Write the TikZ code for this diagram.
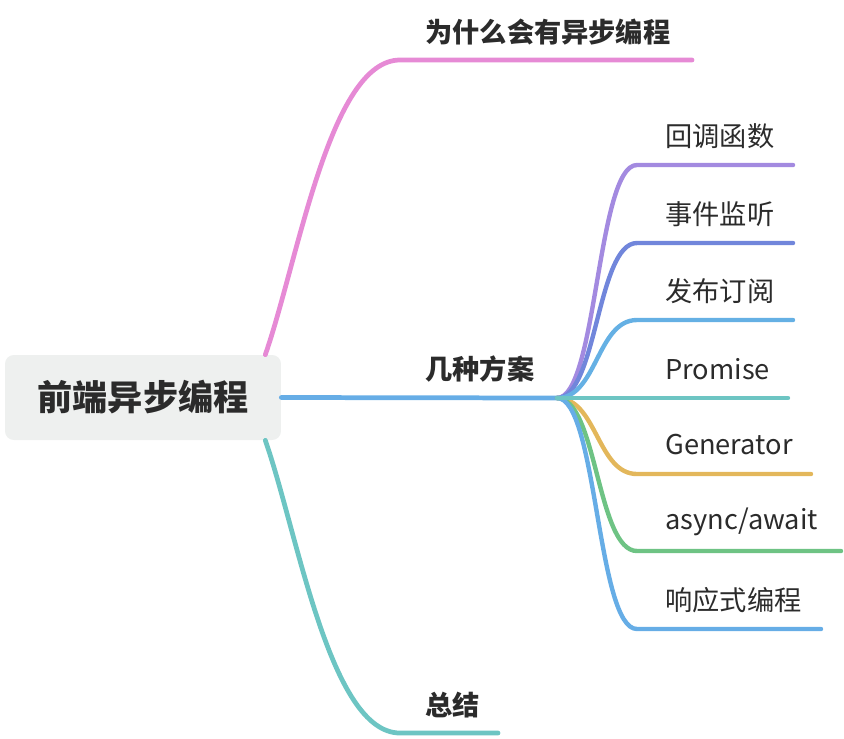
\documentclass[tikz,border=0pt]{standalone}
\usepackage{fontspec}
\setmainfont{Noto Sans CJK SC}
\usetikzlibrary{positioning}

\definecolor{ink}{HTML}{2B2B2B}
\definecolor{rootgray}{HTML}{EEF0EF}
\definecolor{pinkline}{HTML}{E68AD5}
\definecolor{mainblue}{HTML}{66ADE6}
\definecolor{tealline}{HTML}{6DC5C3}
\definecolor{purpleline}{HTML}{A38AE0}
\definecolor{indigoline}{HTML}{7186DB}
\definecolor{skyline}{HTML}{65B0E4}
\definecolor{goldline}{HTML}{E3B75B}
\definecolor{greenline}{HTML}{6EC384}

\begin{document}
\begin{tikzpicture}[x=0.02cm, y=-0.02cm, line cap=round,
  branch/.style={line width=2.7pt},
  twig/.style={line width=2.5pt},
  root/.style={fill=rootgray, rounded corners=5pt, inner sep=0pt,
    minimum width=5.52cm, minimum height=1.7cm, text=ink,
    font=\fontsize{20}{24}\selectfont\bfseries},
  topic/.style={anchor=west, inner sep=0pt, text=ink,
    font=\fontsize{15.5}{18}\selectfont\bfseries},
  leaf/.style={anchor=west, inner sep=0pt, text=ink,
    font=\fontsize{15.5}{18}\selectfont}]
  \useasboundingbox (0,0) rectangle (844,738);

  % Central topic
  \node[root] (root) at (143,397.5) {前端异步编程};

  % First level
  \coordinate (why-s) at (400,60);
  \coordinate (why-e) at (692,60);
  \coordinate (hub) at (557,398);
  \coordinate (sum-s) at (400,733);
  \coordinate (sum-e) at (498,733);

  \draw[branch, pinkline] ([xshift=-0.32cm]root.north east)
    .. controls +(33,-95) and +(-70,0) .. (why-s) -- (why-e);
  \draw[branch, mainblue] (root.east) -- (hub);
  \draw[branch, tealline] ([xshift=-0.32cm]root.south east)
    .. controls +(33,95) and +(-70,0) .. (sum-s) -- (sum-e);

  \node[topic] (why) at (425,32) {为什么会有异步编程};
  \node[topic] (plans) at (425,369) {几种方案};
  \node[topic] (sum) at (425,705) {总结};

  % Second level
  \foreach \nm/\yy/\xe/\col/\txt in {
      cb/165/793/purpleline/回调函数,
      ev/243/793/indigoline/事件监听,
      ps/320/793/skyline/发布订阅,
      gen/474/811/goldline/Generator,
      aa/551/841/greenline/{async/await},
      rx/629/821/mainblue/响应式编程,
      pr/398/788/tealline/Promise} {
    \coordinate (\nm-s) at (637,\yy);
    \coordinate (\nm-e) at (\xe,\yy);
    \draw[twig, \col] (hub) .. controls +(40,0) and +(-40,0) .. (\nm-s) -- (\nm-e);
    \node[leaf] (\nm) at (665,\yy-29) {\txt};
  }
\end{tikzpicture}
\end{document}
